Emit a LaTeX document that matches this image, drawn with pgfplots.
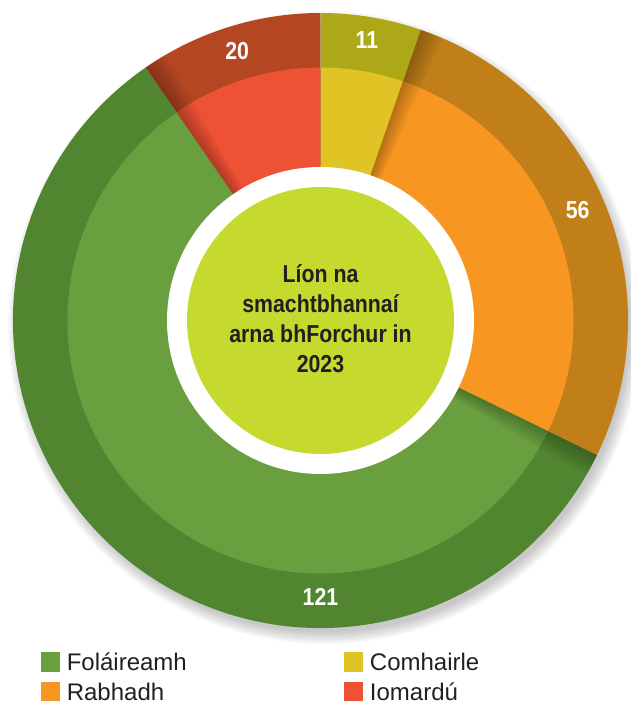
\documentclass[border=0pt]{standalone}
\usepackage{fontspec}
\setmainfont{Liberation Sans}
\newfontfamily\condb[FakeStretch=0.87]{Liberation Sans Bold}
\usepackage{pgfplots}
\usepackage{pgfplotstable}
\pgfplotsset{compat=1.18}

\definecolor{GreenOut}{HTML}{52852F}
\definecolor{GreenIn}{HTML}{6A9F40}
\definecolor{OrangeOut}{HTML}{C07F18}
\definecolor{OrangeIn}{HTML}{F79722}
\definecolor{YellowOut}{HTML}{ADA817}
\definecolor{YellowIn}{HTML}{E0C325}
\definecolor{RedOut}{HTML}{B54622}
\definecolor{RedIn}{HTML}{EE5234}
\definecolor{Centre}{HTML}{C5D92E}
\definecolor{TextDark}{HTML}{231F20}

% clockwise from 12 o'clock
\pgfplotstableread{
name value outer inner lblangle lblradius
Comhairle 11 YellowOut YellowIn 80.6 284
Rabhadh 56 OrangeOut OrangeIn 23.3 280
Folaireamh 121 GreenOut GreenIn -90 276
Iomardu 20 RedOut RedIn 107.2 282
}\donutdata

\def\Rout{307.5pt}
\def\Rmid{253pt}
\def\Rwhite{153.5pt}
\def\Rcore{133.5pt}

\begin{document}
\begin{tikzpicture}
\begin{axis}[
  scale only axis, width=630pt, height=706pt,
  xmin=0, xmax=630, ymin=0, ymax=706,
  hide axis, clip=false,
  legend columns=2,
  legend cell align=left,
  legend image code/.code={\fill[#1] (0pt,-8pt) rectangle (18pt,10pt);},
  legend style={draw=none, fill=none, inner sep=0pt, outer sep=0pt,
    at={(axis cs:40.7,53.5)}, anchor=north west,
    font=\fontsize{24}{28}\selectfont, text=TextDark,
    nodes={inner sep=0pt, text height=18pt, text depth=1.5pt},
    row sep=9.5pt,
    /tikz/every odd column/.append style={column sep=7.7pt},
    /tikz/every even column/.append style={column sep=157pt}},
]
\addlegendimage{GreenIn}
\addlegendentry{Foláireamh}
\addlegendimage{YellowIn}
\addlegendentry{Comhairle}
\addlegendimage{OrangeIn}
\addlegendentry{Rabhadh}
\addlegendimage{RedIn}
\addlegendentry{Iomardú}

\pgfplotsextra{
  \coordinate (C) at (axis cs:320.5,385.5);
  % soft drop shadow
  \foreach \i in {1,...,10}{
    \fill[black, opacity=0.022] ([xshift=4pt,yshift=-7pt]C) circle[radius=\Rout+\i*1.3pt-4pt];
  }
  \gdef\total{0}
  \pgfplotstableforeachcolumnelement{value}\of\donutdata\as\v{%
    \pgfmathparse{\total+\v}\xdef\total{\pgfmathresult}}
  \gdef\sa{90}
  \pgfplotstableforeachcolumnelement{value}\of\donutdata\as\v{%
    \pgfplotstablegetelem{\pgfplotstablerow}{outer}\of\donutdata\let\cout\pgfplotsretval
    \pgfplotstablegetelem{\pgfplotstablerow}{inner}\of\donutdata\let\cin\pgfplotsretval
    \pgfmathsetmacro\ea{\sa-\v/\total*360}
    \fill[\cout] (C) -- ++(\sa:\Rout) arc[start angle=\sa, end angle=\ea, radius=\Rout] -- cycle;
    \fill[\cin] (C) -- ++(\sa:\Rmid) arc[start angle=\sa, end angle=\ea, radius=\Rmid] -- cycle;
    \ifnum\pgfplotstablerow>0
      \foreach \k in {1,...,6}{
        \fill[black, opacity=0.045] (C) -- ++(\sa:\Rout) arc[start angle=\sa, end angle=\sa-\k*0.7, radius=\Rout] -- cycle;
      }
    \fi
    \xdef\sa{\ea}
  }
  \fill[white] (C) circle[radius=\Rwhite];
  \fill[Centre] (C) circle[radius=\Rcore];
  % value labels
  \pgfplotstableforeachcolumnelement{value}\of\donutdata\as\v{%
    \pgfplotstablegetelem{\pgfplotstablerow}{lblangle}\of\donutdata\let\la\pgfplotsretval
    \pgfplotstablegetelem{\pgfplotstablerow}{lblradius}\of\donutdata\let\lr\pgfplotsretval
    \node[text=white, inner sep=0pt, font=\condb\fontsize{24.5}{28}\selectfont]
      at ([shift={(\la:\lr pt)}]C) {\v};
  }
  % centre title
  \begin{scope}[every node/.style={anchor=base, inner sep=0pt, text=TextDark,
      font=\condb\fontsize{24.5}{30}\selectfont}]
    \node at (axis cs:320.5,423.3) {Líon na};
    \node at (axis cs:320.5,393.2) {smachtbhannaí};
    \node at (axis cs:320.5,363.1) {arna bhForchur in};
    \node at (axis cs:320.5,333) {2023};
  \end{scope}
}
\end{axis}
\pgfresetboundingbox
\useasboundingbox (0,0) rectangle (630pt,706pt);
\end{tikzpicture}
\end{document}
